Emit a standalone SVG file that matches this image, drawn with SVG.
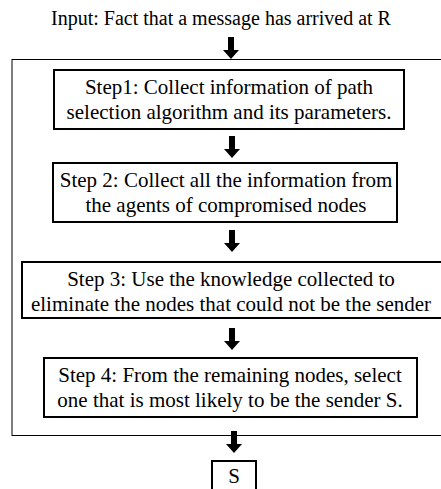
<svg xmlns="http://www.w3.org/2000/svg" width="441" height="489" viewBox="0 0 441 489">
<style>
text{font-family:"Liberation Serif","Times New Roman","DejaVu Serif",serif;font-size:21px;fill:#000;text-anchor:middle}
.box{fill:#fff;stroke:#000;stroke-width:2}
.outer{fill:none;stroke:#000;stroke-width:1}
</style>
<defs>
<polygon id="arr" points="-3,0 3,0 3,13 8,13 0,22 -8,13 -3,13"/>
</defs>
<rect fill="#fff" width="441" height="489"/>
<g id="input"><text x="221" y="25" style="font-size:20px">Input: Fact that a message has arrived at R</text></g>
<g id="frame"><rect class="outer" x="12" y="59.5" width="440" height="376"/></g>
<g id="connectors">
<use href="#arr" x="231" y="37"/>
<use href="#arr" x="232" y="136"/>
<use href="#arr" x="232" y="230"/>
<use href="#arr" x="232" y="328"/>
<use href="#arr" x="234" y="431"/>
</g>
<g id="step1"><rect class="box" x="54" y="70" width="350" height="59"/>
<text x="229" y="94">Step1: Collect information of path</text>
<text x="229" y="119">selection algorithm and its parameters.</text></g>
<g id="step2"><rect class="box" x="53" y="163" width="344" height="59"/>
<text x="226" y="187">Step 2: Collect all the information from</text>
<text x="226" y="212">the agents of compromised nodes</text></g>
<g id="step3"><rect class="box" x="22" y="262" width="420" height="56"/>
<text x="231" y="286">Step 3: Use the knowledge collected to</text>
<text x="231" y="311">eliminate the nodes that could not be the sender</text></g>
<g id="step4"><rect class="box" x="44" y="358" width="373" height="59"/>
<text x="230" y="382">Step 4: From the remaining nodes, select</text>
<text x="230" y="407">one that is most likely to be the sender S.</text></g>
<g id="s"><rect class="box" x="212" y="461" width="44" height="40"/>
<text x="234" y="483">S</text></g>
</svg>
